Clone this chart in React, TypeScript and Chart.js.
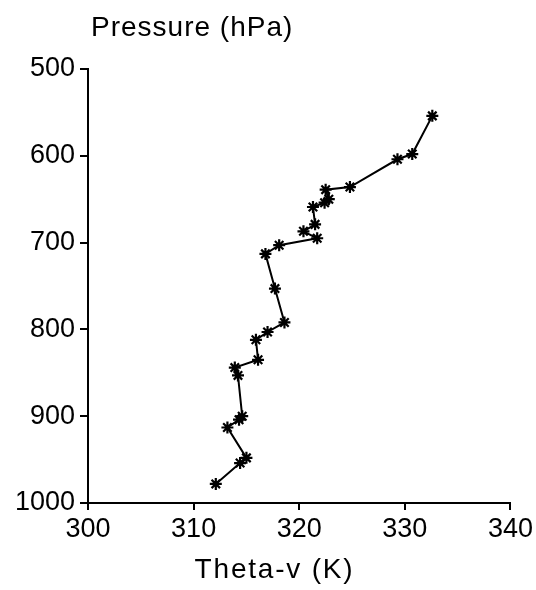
import React, { useEffect, useRef } from "react";
import { Chart, registerables } from "chart.js";

Chart.register(...registerables);

const thetaV = [
  332.6, 330.7, 329.3, 324.8, 322.5, 322.8, 322.4, 321.3, 321.5, 320.4, 321.7,
  318.1, 316.8, 317.7, 318.6, 317.0, 315.9, 316.1, 313.9, 314.2, 314.6, 314.3,
  313.2, 315.0, 314.4, 312.1,
];
const pressure = [
  554, 598, 604, 636, 639, 650, 654, 659, 679, 687, 695, 703, 713, 753, 792,
  803, 812, 835, 844, 853, 900, 904, 913, 948, 954, 978,
];
const xTicks = [300, 310, 320, 330, 340];
const yTicks = [500, 600, 700, 800, 900, 1000];
const xTitle = "Theta-v (K)";
const yTitle = "Pressure (hPa)";

const FONT = "'Liberation Sans', Arial, sans-serif";

export default function App() {
  const ref = useRef<HTMLCanvasElement | null>(null);

  useEffect(() => {
    document.body.style.margin = "0";
    const canvas = ref.current;
    if (!canvas) return;

    const titlePlugin = {
      id: "axisTitles",
      afterDraw(chart: any) {
        const ctx = chart.ctx as CanvasRenderingContext2D;
        const xs = chart.scales.x;
        const area = chart.chartArea;
        ctx.save();
        ctx.fillStyle = "#000";
        ctx.font = `28px ${FONT}`;
        ctx.textAlign = "left";
        ctx.textBaseline = "alphabetic";
        (ctx as any).letterSpacing = "1px";
        ctx.fillText(yTitle, area.left + 3, 36);
        (ctx as any).letterSpacing = "1.8px";
        ctx.fillText(xTitle, xs.getPixelForValue(310) + 1, 578);
        ctx.restore();
      },
    };

    const chart = new Chart(canvas, {
      type: "scatter",
      data: {
        datasets: [
          {
            data: thetaV.map((t, i) => ({ x: t, y: pressure[i] })),
            showLine: true,
            borderColor: "#000",
            borderWidth: 2,
            pointStyle: "star",
            pointRadius: 6,
            pointBorderWidth: 2.2,
            pointBorderColor: "#000",
            pointBackgroundColor: "#000",
          },
        ],
      },
      options: {
        responsive: false,
        animation: false,
        layout: { padding: { top: 69, right: 24, left: 0, bottom: 0 } },
        plugins: {
          legend: { display: false },
          tooltip: { enabled: false },
        },
        scales: {
          x: {
            type: "linear",
            min: xTicks[0],
            max: xTicks[xTicks.length - 1],
            afterBuildTicks: (s: any) => {
              s.ticks = xTicks.map((v) => ({ value: v }));
            },
            afterFit: (s: any) => {
              s.height = 87;
            },
            ticks: {
              color: "#000",
              font: { family: FONT, size: 27 },
              padding: 3,
              maxRotation: 0,
              callback: (v: any) => String(v),
            },
            grid: {
              drawOnChartArea: false,
              drawTicks: true,
              tickLength: 7,
              color: "#000",
              lineWidth: 2,
            },
            border: { display: true, color: "#000", width: 2 },
          },
          y: {
            type: "linear",
            reverse: true,
            min: yTicks[0],
            max: yTicks[yTicks.length - 1],
            afterBuildTicks: (s: any) => {
              s.ticks = yTicks.map((v) => ({ value: v }));
            },
            afterFit: (s: any) => {
              s.width = 88;
            },
            ticks: {
              color: "#000",
              font: { family: FONT, size: 27 },
              padding: 5,
              callback: (v: any) => String(v),
            },
            grid: {
              drawOnChartArea: false,
              drawTicks: true,
              tickLength: 8,
              color: "#000",
              lineWidth: 2,
            },
            border: { display: true, color: "#000", width: 2 },
          },
        },
      },
      plugins: [titlePlugin],
    } as any);

    return () => chart.destroy();
  }, []);

  return (
    <div>
      <canvas ref={ref} width={536} height={590} style={{ display: "block" }} />
    </div>
  );
}
